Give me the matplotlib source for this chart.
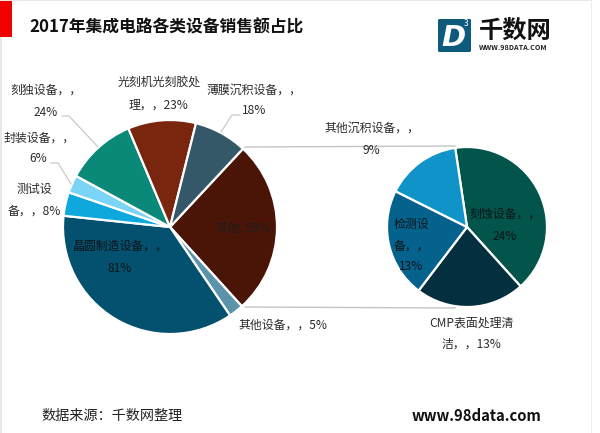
import matplotlib
matplotlib.use('Agg')
import matplotlib.pyplot as plt
from matplotlib.patches import Rectangle, FancyBboxPatch

plt.rcParams['font.family'] = ['Noto Sans CJK SC', 'DejaVu Sans']

main_names = ['其他', '其他设备', '晶圆制造设备', '测试设备', '封装设备', '刻独设备', '光刻机光刻胶处理', '薄膜沉积设备']
main_values = [59, 5, 81, 8, 6, 24, 23, 18]
main_colors = ['#4a1507', '#5b93ab', '#04506f', '#0ea8dd', '#7bd3f5', '#0a8878', '#7a260f', '#345867']

sub_names = ['刻蚀设备', 'CMP表面处理清洁', '检测设备', '其他沉积设备']
sub_values = [24, 13, 13, 9]
sub_colors = ['#03554c', '#032f3f', '#05628c', '#1093c8']

W, H = 600, 433


def py(y):
    # picture y (from the top) to axes y
    return H - y


def label(x, y, s, size=8.6, color='#2b2b2b', **kw):
    ax.text(x, py(y), s, ha='center', va='center', fontsize=size, color=color, **kw)


fig = plt.figure(figsize=(6, 4.33), dpi=100)
ax = fig.add_axes([0, 0, 1, 1])
ax.set_xlim(0, W)
ax.set_ylim(0, H)

# frame and red mark
ax.add_patch(Rectangle((0, py(433)), 2, 433, color='#e8e8e8', lw=0))
ax.add_patch(Rectangle((0, py(1)), 591, 1, color='#e8e8e8', lw=0))
ax.add_patch(Rectangle((591, py(433)), 1, 433, color='#eeeeee', lw=0))
ax.add_patch(Rectangle((0, py(37)), 12, 36, color='#f00000', lw=0))

ax.pie(main_values, colors=main_colors, center=(170, py(227)), radius=107,
       startangle=47, counterclock=False,
       wedgeprops={'edgecolor': 'white', 'linewidth': 1.6})
ax.pie(sub_values, colors=sub_colors, center=(467, py(227)), radius=80,
       startangle=98.5, counterclock=False,
       wedgeprops={'edgecolor': 'white', 'linewidth': 1.6})
ax.set_xlim(0, W)
ax.set_ylim(0, H)
ax.set_aspect('equal')
ax.axis('off')

# connector lines between the pies
ax.plot([245, 455], [py(147), py(146)], color='#c4c4c4', lw=1)
ax.plot([245, 455], [py(307), py(308)], color='#c4c4c4', lw=1)

# leader lines
ax.plot([62, 69, 98], [py(116), py(116), py(147)], color='#c4c4c4', lw=0.8)
ax.plot([51, 58, 71], [py(163), py(163), py(184)], color='#c4c4c4', lw=0.8)
ax.plot([240, 232, 221], [py(115), py(115), py(132)], color='#c4c4c4', lw=0.8)

ax.text(29, py(27), '2017年集成电路各类设备销售额占比', ha='left', va='center',
        fontsize=12.1, fontweight='bold', color='#111111')

# outside labels
label(46, 90, '刻独设备，，')
label(46, 112, '24%')
label(159, 83, '光刻机光刻胶处')
label(159, 105, '理，，23%')
label(254, 90, '薄膜沉积设备，，')
label(254, 111, '18%')
label(39, 138, '封装设备，，')
label(38, 159, '6%')
label(34, 189, '测试设')
label(34, 211, '备，，8%')
label(372, 128, '其他沉积设备，，')
label(371, 150, '9%')
label(283, 325, '其他设备，，5%')
label(471, 323, 'CMP表面处理清')
label(471, 344, '洁，，13%')

# labels on the slices
dark = '#0b1418'
label(120, 246, '晶圆制造设备，，', color=dark)
label(120, 268, '81%', color=dark)
label(243, 228, '其他, 59%', color='#1c1c1c')
label(505, 214, '刻蚀设备，，', color=dark)
label(505, 236, '24%', color=dark)
label(411, 224, '检测设', color=dark)
label(411, 246, '备，，', color=dark)
label(411, 267, '13%', color=dark)

# footer
ax.text(41, py(416), '数据来源：千数网整理', ha='left', va='center', fontsize=10.2, color='#222222')
ax.text(412, py(416), 'www.98data.com', ha='left', va='center', fontsize=10.7,
        fontweight='bold', color='#111111')

# logo
ax.add_patch(FancyBboxPatch((438, py(52)), 33, 33, boxstyle='round,pad=0,rounding_size=1.5',
                            facecolor='#0d5a7d', edgecolor='none'))
ax.text(453, py(38), 'D', ha='center', va='center', fontsize=21, fontweight='bold',
        style='italic', color='white', family='DejaVu Sans')
ax.text(466, py(24), '3', ha='center', va='center', fontsize=6, color='white')
ax.text(479, py(32), '千数网', ha='left', va='center', fontsize=17.5, fontweight='bold', color='#111111')
ax.text(479, py(48), 'WWW.98DATA.COM', ha='left', va='center', fontsize=5.2,
        fontweight='bold', color='#222222')

fig.savefig('out.png', dpi=100)
